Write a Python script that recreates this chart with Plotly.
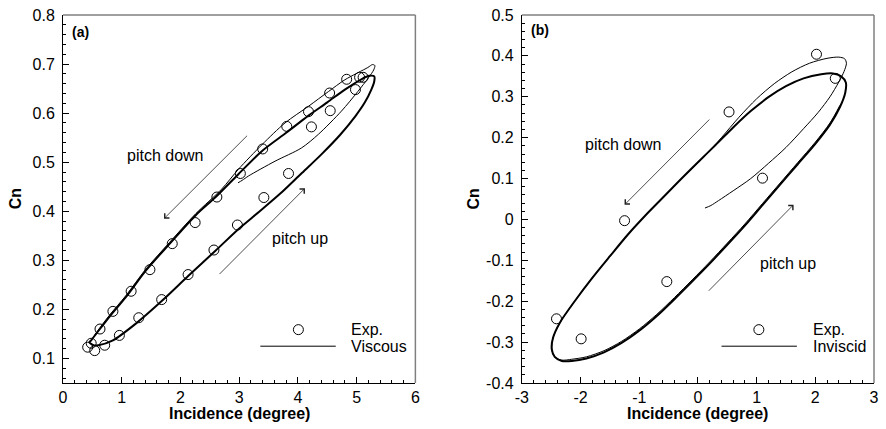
import plotly.graph_objects as go

# ---------------- Panel (a): viscous ----------------
exp_a_x = [0.42, 0.48, 0.54, 0.63, 0.71, 0.85, 0.96, 1.16, 1.29, 1.48, 1.68, 1.86, 2.13, 2.25, 2.57,
           2.62, 2.97, 3.02, 3.40, 3.42, 3.81, 3.84, 4.18, 4.23, 4.54, 4.55, 4.83, 4.98, 5.05, 5.11]
exp_a_y = [0.123, 0.131, 0.116, 0.160, 0.127, 0.196, 0.147, 0.237, 0.183, 0.281, 0.220, 0.334, 0.271, 0.377, 0.321,
           0.429, 0.372, 0.477, 0.527, 0.428, 0.573, 0.477, 0.603, 0.572, 0.641, 0.605, 0.669, 0.648, 0.673, 0.673]

visc_thick_x = [0.45, 0.52, 0.60, 0.85, 1.24, 1.69, 2.14, 2.60, 2.99, 3.33, 3.70, 4.05, 4.40, 4.72, 4.98, 5.14,
                5.25, 5.30, 5.30, 5.22, 5.08, 4.80, 4.50, 4.18, 3.80, 3.39, 2.99, 2.60, 2.26, 1.81, 1.41, 1.07,
                0.79, 0.57, 0.48, 0.45]
visc_thick_y = [0.133, 0.127, 0.127, 0.137, 0.171, 0.218, 0.269, 0.320, 0.364, 0.398, 0.436, 0.476, 0.516, 0.556,
                0.594, 0.622, 0.648, 0.665, 0.675, 0.676, 0.669, 0.648, 0.622, 0.595, 0.560, 0.523, 0.476, 0.429,
                0.392, 0.333, 0.279, 0.225, 0.185, 0.151, 0.137, 0.133]

visc_thin_x = [2.98, 3.05, 3.16, 3.61, 4.06, 4.35, 4.74, 5.02, 5.20, 5.29, 5.31, 5.27, 5.19, 4.80, 4.52, 4.18,
               3.78, 3.39, 2.99, 2.70, 2.26, 1.81, 1.41, 1.07, 0.79, 0.57, 0.47]
visc_thin_y = [0.458, 0.463, 0.472, 0.502, 0.529, 0.557, 0.604, 0.644, 0.672, 0.688, 0.697, 0.699, 0.693, 0.668,
               0.644, 0.614, 0.580, 0.536, 0.486, 0.445, 0.395, 0.336, 0.282, 0.228, 0.188, 0.153, 0.135]

# ---------------- Panel (b): inviscid ----------------
exp_b_x = [-2.41, -1.99, -1.25, -0.53, 0.53, 1.10, 2.02, 2.34]
exp_b_y = [-0.243, -0.292, -0.003, -0.152, 0.263, 0.101, 0.404, 0.345]

inv_thick_x = [2.52, 2.44, 2.30, 2.10, 1.80, 1.50, 1.20, 0.90, 0.60, 0.30, 0.00, -0.30, -0.60, -0.90, -1.20,
               -1.50, -1.80, -2.10, -2.35, -2.47, -2.49, -2.44, -2.32, -2.15, -1.90, -1.60, -1.30, -1.00, -0.70,
               -0.40, -0.10, 0.20, 0.50, 0.80, 1.10, 1.40, 1.70, 2.00, 2.25, 2.42, 2.51, 2.52]
inv_thick_y = [0.335, 0.350, 0.357, 0.355, 0.345, 0.326, 0.299, 0.265, 0.225, 0.182, 0.140, 0.097, 0.053, 0.009,
               -0.038, -0.090, -0.143, -0.200, -0.252, -0.290, -0.318, -0.336, -0.346, -0.346, -0.340, -0.325,
               -0.302, -0.272, -0.236, -0.195, -0.152, -0.108, -0.062, -0.015, 0.035, 0.085, 0.135, 0.185, 0.232,
               0.275, 0.310, 0.335]

inv_thin_x = [0.12, 0.22, 0.35, 0.60, 0.90, 1.20, 1.50, 1.80, 2.05, 2.25, 2.40, 2.49, 2.53, 2.50, 2.40, 2.20,
              1.90, 1.60, 1.30, 1.00, 0.70, 0.40, 0.10, -0.30, -0.60, -0.90, -1.20, -1.50, -1.80, -2.10, -2.35,
              -2.47, -2.49, -2.44, -2.32, -2.15, -1.90, -1.60, -1.30, -1.00, -0.70, -0.40, -0.10, 0.20, 0.50,
              0.80, 1.10, 1.40, 1.70, 2.00, 2.25, 2.42]
inv_thin_y = [0.028, 0.034, 0.046, 0.070, 0.100, 0.137, 0.176, 0.222, 0.262, 0.300, 0.336, 0.362, 0.382, 0.393,
              0.397, 0.394, 0.382, 0.361, 0.332, 0.295, 0.250, 0.200, 0.152, 0.097, 0.053, 0.009, -0.038, -0.090,
              -0.143, -0.200, -0.252, -0.290, -0.318, -0.336, -0.344, -0.342, -0.336, -0.321, -0.298, -0.268,
              -0.232, -0.191, -0.148, -0.104, -0.058, -0.011, 0.039, 0.089, 0.139, 0.189, 0.236, 0.279]

# tick labels
xa_ticks = [0, 1, 2, 3, 4, 5, 6]
xa_labels = ["0", "1", "2", "3", "4", "5", "6"]
ya_ticks = [0.1, 0.2, 0.3, 0.4, 0.5, 0.6, 0.7, 0.8]
ya_labels = ["0.1", "0.2", "0.3", "0.4", "0.5", "0.6", "0.7", "0.8"]
xb_ticks = [-3, -2, -1, 0, 1, 2, 3]
xb_labels = ["-3", "-2", "-1", "0", "1", "2", "3"]
yb_ticks = [-0.4, -0.3, -0.2, -0.1, 0, 0.1, 0.2, 0.3, 0.4, 0.5]
yb_labels = ["-0.4", "-0.3", "-0.2", "-0.1", "0", "0.1", "0.2", "0.3", "0.4", "0.5"]

FONT = "Liberation Sans, Arial, sans-serif"
BLACK = "#000000"

fig = go.Figure()

def curve(x, y, w, xa, ya):
    return go.Scatter(x=x, y=y, mode="lines", xaxis=xa, yaxis=ya, showlegend=False,
                      line=dict(color=BLACK, width=w, shape="spline", smoothing=0.8),
                      hoverinfo="skip")

def circles(x, y, xa, ya):
    return go.Scatter(x=x, y=y, mode="markers", xaxis=xa, yaxis=ya, showlegend=False,
                      marker=dict(symbol="circle-open", size=10, color=BLACK, line=dict(width=1, color=BLACK)))

fig.add_trace(curve(visc_thick_x, visc_thick_y, 2, "x", "y"))
fig.add_trace(curve(visc_thin_x, visc_thin_y, 1, "x", "y"))
fig.add_trace(circles(exp_a_x, exp_a_y, "x", "y"))
fig.add_trace(curve(inv_thick_x, inv_thick_y, 2, "x2", "y2"))
fig.add_trace(curve(inv_thin_x, inv_thin_y, 1, "x2", "y2"))
fig.add_trace(circles(exp_b_x, exp_b_y, "x2", "y2"))

def xaxis_cfg(dom, rng, tv, tt):
    return dict(domain=dom, range=rng, tickmode="array", tickvals=tv, ticktext=tt,
                ticks="inside", ticklen=6, tickwidth=1, tickcolor=BLACK,
                minor=dict(dtick=0.2, tick0=0, ticks="inside", ticklen=3, tickcolor=BLACK, tickwidth=1),
                showline=True, linecolor=BLACK, linewidth=1, mirror=False,
                showgrid=False, zeroline=False, tickfont=dict(family=FONT, size=16, color=BLACK),
                ticklabelstandoff=0)

def yaxis_cfg(anchor, rng, tv, tt):
    return dict(anchor=anchor, domain=[0, 1], range=rng, tickmode="array", tickvals=tv, ticktext=tt,
                ticks="inside", ticklen=6, tickwidth=1, tickcolor=BLACK,
                minor=dict(dtick=0.02, tick0=0, ticks="inside", ticklen=3, tickcolor=BLACK, tickwidth=1),
                showline=True, linecolor=BLACK, linewidth=1, mirror=False,
                showgrid=False, zeroline=False, tickfont=dict(family=FONT, size=16, color=BLACK),
                ticklabelstandoff=4)

fig.update_layout(
    width=886, height=429,
    margin=dict(l=63, r=7, t=13, b=46),
    paper_bgcolor="white", plot_bgcolor="white",
    font=dict(family=FONT, color=BLACK),
    xaxis=dict(anchor="y", **xaxis_cfg([0, 0.4345], [0, 6], xa_ticks, xa_labels)),
    yaxis=yaxis_cfg("x", [0.05, 0.8], ya_ticks, ya_labels),
    xaxis2=dict(anchor="y2", **xaxis_cfg([0.5658, 1.0], [-3, 3], xb_ticks, xb_labels)),
    yaxis2=yaxis_cfg("x2", [-0.4, 0.5], yb_ticks, yb_labels),
)

shapes = []
for xr, yr in [("x domain", "y domain"), ("x2 domain", "y2 domain")]:
    shapes.append(dict(type="line", xref=xr, yref=yr, x0=0, x1=1, y0=1, y1=1,
                       line=dict(color="#808080", width=1.5)))
    shapes.append(dict(type="line", xref=xr, yref=yr, x0=1, x1=1, y0=0, y1=1,
                       line=dict(color="#808080", width=1.5)))

# custom legends (line sample + open circle sample)
legend_cfg = [("x domain", "y domain", 0.668, 0.560, 0.774, 0.812, "Viscous"),
              ("x2 domain", "y2 domain", 0.673, 0.567, 0.781, 0.821, "Inviscid")]
annotations = []
for xr, yr, cx, lx0, lx1, tx, name in legend_cfg:
    shapes.append(dict(type="line", xref=xr, yref=yr, x0=lx0, x1=lx1, y0=0.100, y1=0.100,
                       line=dict(color=BLACK, width=1)))
    shapes.append(dict(type="circle", xref=xr, yref=yr, xsizemode="pixel", ysizemode="pixel",
                       xanchor=cx, yanchor=0.145, x0=-5, x1=5, y0=-5, y1=5,
                       line=dict(color=BLACK, width=1)))
    annotations.append(dict(xref=xr, yref=yr, x=tx, y=0.145, text="Exp.", showarrow=False,
                            xanchor="left", yanchor="middle", font=dict(size=16, family=FONT)))
    annotations.append(dict(xref=xr, yref=yr, x=tx, y=0.098, text=name, showarrow=False,
                            xanchor="left", yanchor="middle", font=dict(size=16, family=FONT)))

# panel labels
annotations.append(dict(xref="x domain", yref="y domain", x=0.021, y=0.955, text="<b>(a)</b>",
                        showarrow=False, xanchor="left", yanchor="middle", font=dict(size=14, family=FONT)))
annotations.append(dict(xref="x2 domain", yref="y2 domain", x=0.019, y=0.958, text="<b>(b)</b>",
                        showarrow=False, xanchor="left", yanchor="middle", font=dict(size=14, family=FONT)))

# axis titles
for xr in ["x domain", "x2 domain"]:
    annotations.append(dict(xref=xr, yref="paper", x=0.5, y=-0.084, text="<b>Incidence (degree)</b>",
                            showarrow=False, xanchor="center", yanchor="middle", font=dict(size=16, family=FONT)))
annotations.append(dict(xref="paper", yref="paper", x=(15 - 63) / 816, y=0.5, text="<b>Cn</b>", textangle=-90,
                        showarrow=False, xanchor="center", yanchor="middle", font=dict(size=16, family=FONT)))
annotations.append(dict(xref="paper", yref="paper", x=(476 - 63) / 816, y=0.5, text="<b>Cn</b>", textangle=-90,
                        showarrow=False, xanchor="center", yanchor="middle", font=dict(size=16, family=FONT)))

# pitch annotations: (xref, yref, text_x, text_y, text, head_x, head_y, tail_x, tail_y)
pitch_notes = [("x", "y", 1.75, 0.513, "pitch down", 1.72, 0.385, 3.16, 0.557),
               ("x", "y", 4.03, 0.344, "pitch up", 4.12, 0.447, 2.64, 0.269),
               ("x2", "y2", -1.27, 0.184, "pitch down", -1.25, 0.036, 0.22, 0.248),
               ("x2", "y2", 1.53, -0.108, "pitch up", 1.63, 0.036, 0.16, -0.178)]
for xr, yr, tx, ty, txt, hx, hy, sx, sy in pitch_notes:
    annotations.append(dict(xref=xr, yref=yr, x=tx, y=ty, text=txt, showarrow=False,
                            xanchor="center", yanchor="middle", font=dict(size=16, family=FONT)))
    annotations.append(dict(xref=xr, yref=yr, x=hx, y=hy, axref=xr, ayref=yr, ax=sx, ay=sy, text="",
                            showarrow=True, arrowhead=4, arrowsize=1.6, arrowwidth=0.8, arrowcolor="#222222"))

fig.update_layout(shapes=shapes, annotations=annotations)

fig.write_html("out.html", config={"displayModeBar": False, "staticPlot": True},
               post_script="document.body.style.margin='0px'; document.body.style.overflow='hidden';")
